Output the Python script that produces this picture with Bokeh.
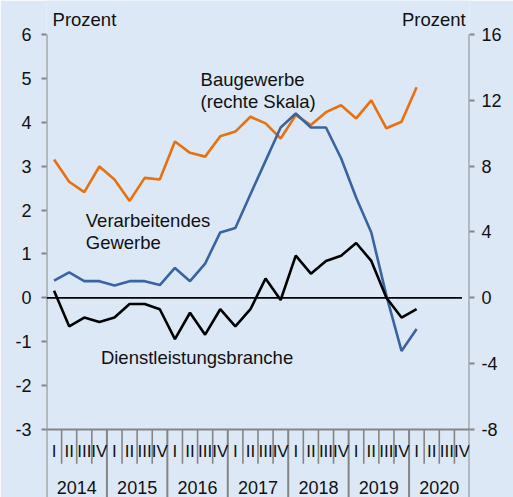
import numpy as np
from bokeh.plotting import figure
from bokeh.models import Range1d, LinearAxis, FixedTicker, ColumnDataSource, CustomJSTickFormatter
from bokeh.core.properties import value
from bokeh.embed import file_html
from bokeh.resources import INLINE

# ---- data ----
years = ["2014", "2015", "2016", "2017", "2018", "2019", "2020"]
quarters = ["I", "II", "III", "IV"]
left_ticks = [-3, -2, -1, 0, 1, 2, 3, 4, 5, 6]
right_ticks = [-8, -4, 0, 4, 8, 12, 16]

# Baugewerbe (rechte Skala)
bau = [8.4, 7.05, 6.42, 7.98, 7.19, 5.89, 7.29, 7.19, 9.5, 8.81, 8.58, 9.82, 10.1,
       11.0, 10.6, 9.68, 11.1, 10.5, 11.28, 11.7, 10.9, 12.0, 10.3, 10.7, 12.8]
# Verarbeitendes Gewerbe (linke Skala)
verarb = [0.39, 0.58, 0.38, 0.38, 0.28, 0.38, 0.38, 0.29, 0.68, 0.38, 0.78, 1.49, 1.59,
          2.36, 3.12, 3.88, 4.2, 3.88, 3.88, 3.18, 2.28, 1.49, 0.05, -1.21, -0.71]
# Dienstleistungsbranche (linke Skala)
dienst = [0.16, -0.65, -0.45, -0.55, -0.45, -0.14, -0.14, -0.26, -0.94, -0.34, -0.84, -0.26, -0.65,
          -0.26, 0.44, -0.05, 0.96, 0.55, 0.84, 0.96, 1.25, 0.84, 0.0, -0.45, -0.26]

FONT = "Liberation Sans"
BG = "#dce8f6"
GREY = "#858585"
ORANGE = "#e8700f"
BLUE = "#3a64a0"
TXT = "#111111"

n_q = len(years) * len(quarters)
y_bottom = -4.55
y_top = 6.775
scale = (right_ticks[-1] - right_ticks[0]) / (left_ticks[-1] - left_ticks[0])

p = figure(width=513, height=497, output_backend="svg", toolbar_location=None,
           x_range=Range1d(0, n_q), y_range=Range1d(y_bottom, y_top),
           x_axis_location=None, y_axis_location="left",
           min_border_left=46, min_border_right=44, min_border_top=0, min_border_bottom=0)
p.extra_y_ranges = {"right": Range1d(y_bottom * scale, y_top * scale)}
p.background_fill_color = BG
p.border_fill_color = BG
p.outline_line_color = None
p.grid.visible = False

def style_axis(ax, ticks, standoff):
    ax.ticker = FixedTicker(ticks=ticks)
    ax.formatter = CustomJSTickFormatter(code="return String(Math.round(tick));")
    ax.axis_line_color = None
    ax.major_tick_line_color = GREY
    ax.major_tick_line_width = 2
    ax.major_tick_out = 5
    ax.major_tick_in = 0
    ax.minor_tick_line_color = None
    ax.major_label_text_font = FONT
    ax.major_label_text_font_size = "18px"
    ax.major_label_text_color = TXT
    ax.major_label_standoff = standoff

style_axis(p.yaxis[0], left_ticks, 10)
rax = LinearAxis(y_range_name="right")
style_axis(rax, right_ticks, 7)
p.add_layout(rax, "right")

# vertical axis lines (from top tick down to the bottom edge)
p.segment(x0=[0, n_q], y0=[left_ticks[-1]] * 2, x1=[0, n_q], y1=[y_bottom] * 2,
          line_color=GREY, line_width=2)

# x axis drawn with glyphs in data space
x = np.arange(len(bau)) + 0.5
p.segment(x0=[0], y0=[left_ticks[0]], x1=[n_q], y1=[left_ticks[0]], line_color=GREY, line_width=2)
qb = [i for i in range(1, n_q) if i % 4 != 0]
p.segment(x0=qb, y0=[left_ticks[0]] * len(qb), x1=qb, y1=[-3.78] * len(qb),
          line_color=GREY, line_width=1.6)
yb = list(range(4, n_q, 4))
p.segment(x0=yb, y0=[left_ticks[0]] * len(yb), x1=yb, y1=[y_bottom] * len(yb),
          line_color=GREY, line_width=2)

qsrc = ColumnDataSource(dict(x=np.arange(n_q) + 0.5, t=quarters * len(years)))
p.text(x="x", y=-3.5, text="t", source=qsrc, text_align="center", text_baseline="middle",
       text_font=value(FONT), text_font_size="17px", text_color=TXT)
ysrc = ColumnDataSource(dict(x=np.arange(len(years)) * 4 + 2, t=years))
p.text(x="x", y=-4.32, text="t", source=ysrc, text_align="center", text_baseline="middle",
       text_font=value(FONT), text_font_size="18px", text_color=TXT)

# zero line
p.segment(x0=[0], y0=[0], x1=[27.5], y1=[0], line_color="black", line_width=1.8)

# series
p.line(x, bau, y_range_name="right", line_color=ORANGE, line_width=2.6)
p.line(x, verarb, line_color=BLUE, line_width=2.6)
p.line(x, dienst, line_color="black", line_width=2.6)

def lab(xx, yy, txt, align="left"):
    p.text(x=[xx], y=[yy], text=[txt], text_font=value(FONT), text_font_size="18.5px",
           text_color=TXT, text_align=align, text_baseline="middle")

lab(0.4, 6.34, "Prozent")
lab(27.75, 6.34, "Prozent", "right")
lab(10.2, 4.98, "Baugewerbe")
lab(10.2, 4.48, "(rechte Skala)")
lab(2.6, 1.76, "Verarbeitendes")
lab(2.6, 1.26, "Gewerbe")
lab(3.6, -1.35, "Dienstleistungsbranche")

open("out.html", "w").write(file_html(p, INLINE))
